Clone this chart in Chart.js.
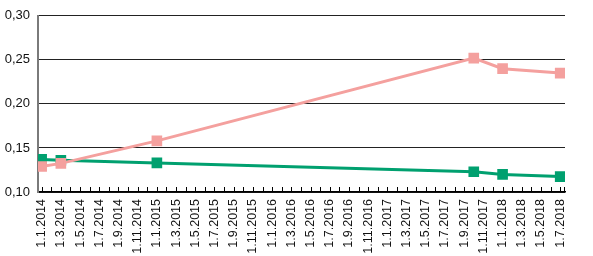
<!DOCTYPE html>
<html>
<head>
<meta charset="utf-8">
<script src="https://cdn.jsdelivr.net/npm/chart.js@4"></script>
<style>
  html, body { margin: 0; padding: 0; background: #fff; }
  #wrap { width: 593px; height: 256px; position: relative; }
</style>
</head>
<body>
<div id="wrap"><canvas id="c"></canvas></div>
<script>
// ---- data ----
const pointDates = ['1.1.2014', '1.3.2014', '1.1.2015', '1.10.2017', '1.1.2018', '1.7.2018'];
const pinkValues  = [0.129, 0.1325, 0.158, 0.252, 0.240, 0.235];
const greenValues = [0.137, 0.136, 0.133, 0.123, 0.120, 0.1175];
const tickLabels = [
  '1.1.2014','1.3.2014','1.5.2014','1.7.2014','1.9.2014','1.11.2014',
  '1.1.2015','1.3.2015','1.5.2015','1.7.2015','1.9.2015','1.11.2015',
  '1.1.2016','1.3.2016','1.5.2016','1.7.2016','1.9.2016','1.11.2016',
  '1.1.2017','1.3.2017','1.5.2017','1.7.2017','1.9.2017','1.11.2017',
  '1.1.2018','1.3.2018','1.5.2018','1.7.2018'
];
const yTicks = [0.10, 0.15, 0.20, 0.25, 0.30];

// month index relative to January 2014
function monthIndex(s) {
  const p = s.split('.');
  return (parseInt(p[2], 10) - 2014) * 12 + (parseInt(p[1], 10) - 1);
}
const labelByMonth = {};
tickLabels.forEach(l => { labelByMonth[monthIndex(l)] = l; });
const firstMonth = monthIndex(tickLabels[0]);
const lastMonth = monthIndex(tickLabels[tickLabels.length - 1]);
const monthTicks = [];
for (let m = firstMonth; m <= lastMonth; m++) monthTicks.push(m);

const pinkData = pointDates.map((d, i) => ({ x: monthIndex(d), y: pinkValues[i] }));
const greenData = pointDates.map((d, i) => ({ x: monthIndex(d), y: greenValues[i] }));

const innerTicks = {
  id: 'innerTicks',
  afterDraw(chart) {
    const xs = chart.scales.x;
    const ctx = chart.ctx;
    const bottom = chart.chartArea.bottom;
    ctx.save();
    ctx.strokeStyle = '#000';
    ctx.lineWidth = 1;
    ctx.beginPath();
    monthTicks.forEach(m => {
      const px = Math.round(xs.getPixelForValue(m)) + 0.5;
      ctx.moveTo(px, bottom);
      ctx.lineTo(px, bottom - 5);
    });
    const pr = Math.round(chart.chartArea.right) - 0.5;
    ctx.moveTo(pr, bottom);
    ctx.lineTo(pr, bottom - 5);
    ctx.stroke();
    ctx.restore();
  }
};

new Chart(document.getElementById('c'), {
  type: 'line',
  data: {
    datasets: [
      {
        data: pinkData,
        borderColor: '#f4a09e',
        backgroundColor: '#f4a09e',
        borderWidth: 3,
        pointStyle: 'rect',
        pointRadius: 5.4,
        pointHoverRadius: 5.4,
        tension: 0
      },
      {
        data: greenData,
        borderColor: '#00a06f',
        backgroundColor: '#00a06f',
        borderWidth: 3,
        pointStyle: 'rect',
        pointRadius: 5.4,
        pointHoverRadius: 5.4,
        tension: 0
      }
    ]
  },
  options: {
    responsive: true,
    maintainAspectRatio: false,
    animation: false,
    events: [],
    layout: { padding: { top: 13, right: 28, left: 0, bottom: 0 } },
    plugins: { legend: { display: false }, tooltip: { enabled: false } },
    scales: {
      x: {
        type: 'linear',
        min: firstMonth - 0.38,
        max: lastMonth + 0.5,
        afterBuildTicks(scale) {
          scale.ticks = monthTicks.map(v => ({ value: v }));
        },
        afterFit(scale) { scale.height = 64; },
        grid: { display: false, drawTicks: false },
        border: { display: true, color: '#000', width: 1.5 },
        ticks: {
          autoSkip: false,
          minRotation: 90,
          maxRotation: 90,
          padding: 7,
          color: '#111',
          font: { family: '"Liberation Sans Narrow", "Liberation Sans", Arial, sans-serif', size: 12.5 },
          callback: (v) => labelByMonth[v] || ''
        }
      },
      y: {
        min: 0.10,
        max: 0.30,
        afterBuildTicks(scale) {
          scale.ticks = yTicks.map(v => ({ value: v }));
        },
        afterFit(scale) { scale.width = 38; },
        grid: { color: '#222', lineWidth: 1, drawTicks: false },
        border: { display: true, color: '#7a7a7a', width: 2 },
        ticks: {
          padding: 8,
          color: '#111',
          font: { family: '"Liberation Sans", Arial, sans-serif', size: 13 },
          callback: (v) => v.toFixed(2).replace('.', ',')
        }
      }
    }
  },
  plugins: [innerTicks]
});
</script>
</body>
</html>
